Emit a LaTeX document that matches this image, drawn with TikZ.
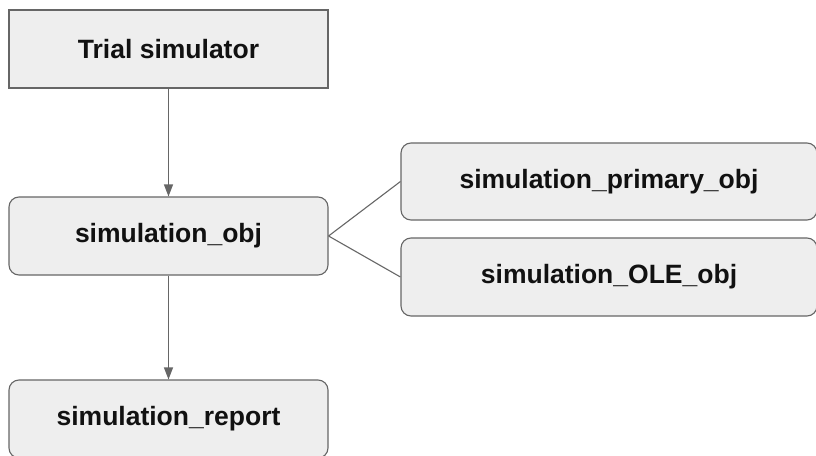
\documentclass[tikz,border=0pt]{standalone}
\usepackage{fontspec}
\setmainfont{Liberation Sans}
\usetikzlibrary{arrows.meta}
\definecolor{boxfill}{HTML}{EEEEEE}
\definecolor{boxline}{HTML}{666666}
\definecolor{txt}{HTML}{111111}
\begin{document}
\begin{tikzpicture}[x=1pt,y=-1pt,
  box/.style={draw=boxline,fill=boxfill,line width=1.1pt,inner sep=0pt,
    text=txt,font=\fontsize{26.5}{30}\selectfont\bfseries},
  roundbox/.style={box,rounded corners=10pt},
  link/.style={draw=boxline,line width=1.1pt},
  arrow/.style={link,-{Triangle[length=12pt,width=9pt]}}]
\fill[white] (0,0) rectangle (816,455);
\useasboundingbox (0,0) rectangle (816,455);
\clip (0,0) rectangle (816,455);
\node[box,minimum width=319pt,minimum height=78pt] (trial) at (168.5,49) {Trial simulator};
\node[roundbox,minimum width=319pt,minimum height=78pt] (obj) at (168.5,236) {simulation\_obj};
\node[roundbox,minimum width=319pt,minimum height=78pt] (report) at (168.5,419) {simulation\_report};
\node[roundbox,minimum width=416pt,minimum height=77pt] (primary) at (609,181.5) {simulation\_primary\_obj};
\node[roundbox,minimum width=416pt,minimum height=78pt] (ole) at (609,277) {simulation\_OLE\_obj};
\draw[arrow] (trial) -- (obj);
\draw[arrow] (obj) -- (report);
\draw[link] (obj.east) -- (primary.west);
\draw[link] (obj.east) -- (ole.west);
\end{tikzpicture}
\end{document}
